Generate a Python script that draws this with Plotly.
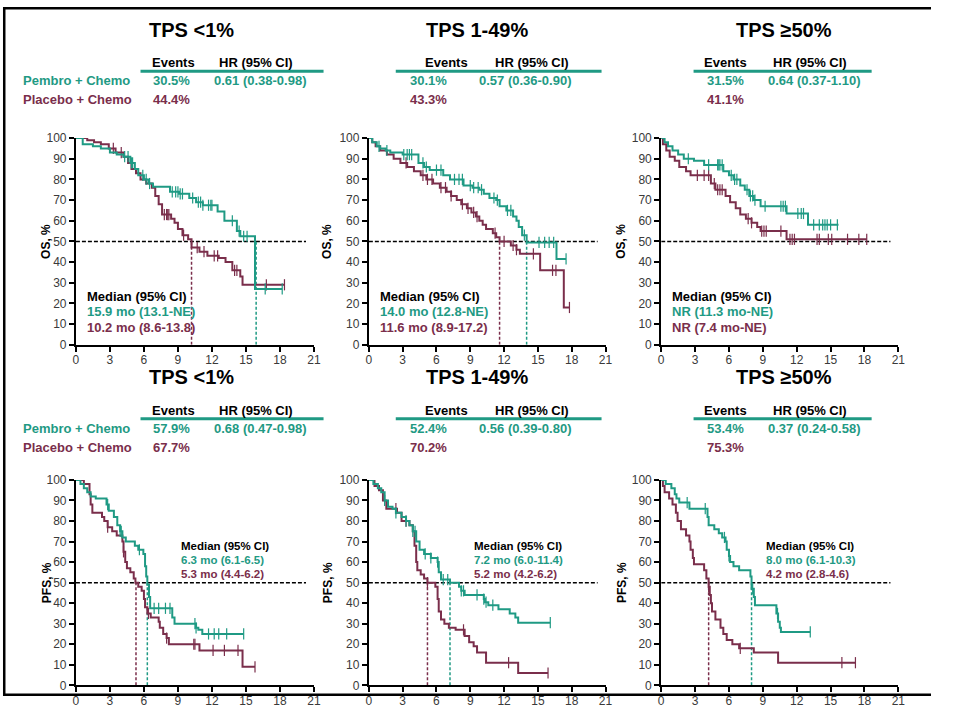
import plotly.graph_objects as go

# The page adds an 8px body margin, so the figure is sized to fill the
# rest of the 954x724 window; positions below are given in window pixels.
OFF = 8
W, H = 954 - 2 * OFF, 724 - 2 * OFF
TEAL = "#1f9a84"
MAROON = "#7a2e4b"
FONT = "Liberation Sans, Arial, sans-serif"

# ---------------- data ----------------
panel_titles = ["TPS <1%", "TPS 1-49%", "TPS \u226550%", "TPS <1%", "TPS 1-49%", "TPS \u226550%"]
events_pembro = ["30.5%", "30.1%", "31.5%", "57.9%", "52.4%", "53.4%"]
events_placebo = ["44.4%", "43.3%", "41.1%", "67.7%", "70.2%", "75.3%"]
hr_text = ["0.61 (0.38-0.98)", "0.57 (0.36-0.90)", "0.64 (0.37-1.10)",
           "0.68 (0.47-0.98)", "0.56 (0.39-0.80)", "0.37 (0.24-0.58)"]
median_pembro_text = ["15.9 mo (13.1-NE)", "14.0 mo (12.8-NE)", "NR (11.3 mo-NE)",
                      "6.3 mo (6.1-6.5)", "7.2 mo (6.0-11.4)", "8.0 mo (6.1-10.3)"]
median_placebo_text = ["10.2 mo (8.6-13.8)", "11.6 mo (8.9-17.2)", "NR (7.4 mo-NE)",
                       "5.3 mo (4.4-6.2)", "5.2 mo (4.2-6.2)", "4.2 mo (2.8-4.6)"]
median_pembro = [15.9, 14.0, None, 6.3, 7.2, 8.0]
median_placebo = [10.2, 11.6, None, 5.3, 5.2, 4.2]
y_titles = ["OS, %", "OS, %", "OS, %", "PFS, %", "PFS, %", "PFS, %"]
x_ticks = [0, 3, 6, 9, 12, 15, 18, 21]
y_ticks = [0, 10, 20, 30, 40, 50, 60, 70, 80, 90, 100]

# OS TPS <1%
os1_p_t = [0, 0.6, 1.5, 2.2, 3.0, 3.6, 4.2, 4.8, 5.2, 5.5, 6.0, 6.4, 6.8, 8.3, 9.1, 10.0, 10.6, 11.2, 12.5, 13.1, 14.2, 14.5, 15.8, 18.2]
os1_p_s = [100, 97, 96, 95, 93, 92, 91, 88, 85, 82, 80, 78, 76.5, 74, 73, 71, 69, 67.5, 64.5, 60, 55, 52.5, 27, 27]
os1_p_c = [4.3, 4.6, 4.9, 5.0, 5.9, 6.2, 6.5, 8.5, 8.8, 9.0, 9.2, 9.4, 10.3, 10.8, 11.0, 11.2, 11.7, 11.9, 12.0, 13.8, 14.4, 14.8, 15.1, 16.7, 18.2]
os1_c_t = [0, 1.0, 1.6, 2.2, 2.9, 3.5, 4.2, 4.6, 4.9, 5.3, 5.7, 6.2, 6.7, 7.0, 7.3, 7.6, 8.4, 8.7, 9.0, 9.4, 9.9, 10.2, 10.9, 11.6, 12.6, 13.2, 13.8, 14.5, 14.7, 18.4]
os1_c_s = [100, 99, 98, 97, 95, 93, 91, 88, 85, 83, 80, 78, 76, 72, 68, 63, 61, 59, 56, 53, 51, 47, 45, 43, 42, 40, 36, 33, 29, 29]
os1_c_c = [3.3, 4.0, 7.8, 8.0, 8.1, 8.2, 9.5, 10.7, 11.3, 12.2, 12.5, 14.0, 14.2, 16.8, 18.4]

# OS TPS 1-49%
os2_p_t = [0, 0.3, 0.7, 1.0, 1.5, 1.9, 3.0, 4.4, 4.9, 5.4, 6.6, 7.2, 8.4, 9.2, 9.8, 10.2, 10.7, 11.3, 11.6, 12.2, 12.8, 13.1, 13.3, 13.6, 14.0, 16.65, 17.5]
os2_p_s = [100, 98, 96, 95, 94, 93, 92, 88, 86, 84.5, 82, 80, 77, 76, 75, 73, 71, 70, 67, 65, 62, 60, 57, 53, 49.5, 41.5, 41.5]
os2_p_c = [0.9, 1.6, 3.1, 3.4, 3.6, 3.8, 4.8, 5.1, 6.0, 6.4, 7.6, 8.0, 8.3, 9.0, 9.3, 9.7, 10.0, 11.1, 11.4, 12.3, 12.6, 13.8, 15.1, 15.6, 16.0, 16.4, 17.5]
os2_c_t = [0, 0.3, 0.6, 1.0, 1.6, 2.2, 2.8, 3.4, 4.0, 4.6, 5.1, 5.7, 6.3, 6.9, 7.3, 7.8, 8.2, 8.7, 9.1, 9.5, 9.8, 10.1, 10.4, 11.0, 11.3, 11.6, 12.6, 13.1, 13.4, 15.2, 17.3, 17.8]
os2_c_s = [100, 98, 96, 94, 92, 90, 88, 86, 84, 82, 80, 78, 76, 74, 72, 70, 68, 66, 64, 62, 60, 58, 56, 54, 52, 50, 48, 46, 44, 36, 18, 18]
os2_c_c = [3.3, 4.8, 5.2, 5.6, 6.4, 6.8, 7.3, 8.3, 8.8, 9.3, 9.6, 11.2, 12.0, 12.8, 13.1, 14.6, 16.3, 16.6, 17.8]

# OS TPS >=50%
os3_p_t = [0, 0.3, 0.6, 1.0, 1.5, 2.0, 2.9, 3.8, 5.5, 6.0, 6.4, 7.0, 7.4, 7.8, 8.2, 8.8, 11.1, 13.0, 15.7]
os3_p_s = [100, 98, 96, 94, 92, 90, 89, 87, 84, 82, 80, 77, 75, 72, 70, 67, 63.5, 58, 58]
os3_p_c = [2.4, 4.2, 5.0, 5.1, 5.2, 5.4, 6.2, 6.5, 6.7, 7.6, 7.9, 8.1, 8.3, 9.2, 10.6, 10.8, 11.0, 12.1, 12.4, 12.6, 13.5, 14.0, 14.3, 14.5, 14.7, 15.0, 15.6]
os3_c_t = [0, 0.15, 0.45, 0.75, 1.2, 1.6, 2.2, 2.6, 4.4, 4.8, 5.7, 6.1, 6.6, 7.0, 7.5, 8.0, 8.5, 8.8, 11.1, 18.2]
os3_c_s = [100, 97, 94, 91, 89, 86, 84, 82, 78, 75, 72, 69, 66, 63, 61, 59, 57, 55, 51, 51]
os3_c_c = [3.2, 3.8, 4.2, 4.7, 5.0, 5.2, 5.4, 7.7, 8.0, 8.9, 9.1, 9.3, 10.6, 11.4, 11.6, 11.8, 13.8, 14.0, 14.8, 15.1, 16.5, 17.5, 18.2]

# PFS TPS <1%
pfs1_p_t = [0, 0.4, 0.7, 1.0, 1.3, 1.75, 2.7, 2.9, 3.35, 3.65, 3.9, 4.1, 4.4, 5.2, 5.5, 5.95, 6.1, 6.2, 6.3, 6.45, 6.55, 8.5, 8.7, 10.6, 10.8, 11.15, 14.8]
pfs1_p_s = [100, 98, 96, 94, 92, 91, 88, 85, 82, 78, 75, 72, 70, 68, 66, 64, 58, 53, 49, 43, 37.5, 33, 30, 28, 27, 25, 25]
pfs1_p_c = [2.8, 3.9, 4.0, 5.6, 6.9, 7.3, 7.9, 8.3, 10.5, 10.6, 11.7, 12.2, 12.6, 13.3, 14.8]
pfs1_c_t = [0, 0.7, 1.2, 1.3, 1.45, 2.3, 2.5, 2.8, 3.2, 3.6, 4.1, 4.2, 4.35, 4.5, 4.8, 5.1, 5.25, 5.5, 5.8, 6.0, 6.1, 6.3, 6.6, 7.3, 7.4, 7.7, 8.0, 8.2, 10.9, 14.7, 15.8]
pfs1_c_s = [100, 98, 93, 88, 84, 82, 80, 77, 75, 73, 70, 65, 60, 57, 55, 52, 50, 48, 46, 42, 38, 35, 33, 31, 28, 25, 23, 20, 17, 9, 9]
pfs1_c_c = [2.8, 4.2, 6.4, 8.0, 10.4, 10.5, 12.1, 13.1, 14.3, 15.8]

# PFS TPS 1-49%
pfs2_p_t = [0, 0.4, 0.8, 1.1, 1.4, 1.7, 2.1, 2.4, 2.9, 3.3, 3.6, 3.9, 4.2, 4.5, 4.9, 5.5, 6.1, 6.2, 6.4, 7.2, 8.0, 8.2, 8.5, 10.2, 10.3, 10.6, 11.5, 12.5, 13.0, 13.25, 16.1]
pfs2_p_s = [100, 98, 96, 94, 90, 87, 86, 84, 82, 80, 78, 75, 70, 66, 64, 62, 60, 55, 51.5, 50, 48, 46, 44, 42, 40.5, 39, 37, 35, 33, 30.5, 30.5]
pfs2_p_c = [1.4, 2.4, 3.3, 3.9, 4.1, 5.0, 5.5, 6.1, 6.6, 7.0, 8.2, 8.4, 9.6, 10.2, 10.4, 11.0, 16.1]
pfs2_c_t = [0, 0.5, 0.9, 1.25, 1.55, 2.5, 2.9, 3.6, 3.9, 4.05, 4.2, 4.3, 4.6, 4.9, 5.2, 5.9, 6.1, 6.2, 6.4, 6.7, 7.1, 7.7, 8.5, 8.9, 9.3, 9.6, 10.4, 13.25, 15.9]
pfs2_c_s = [100, 97, 95, 90, 86, 84, 80, 78, 75, 68, 60, 56, 54, 52, 50, 48, 42, 36, 32, 30, 28, 27, 24, 21, 19, 16, 11, 6, 6]
pfs2_c_c = [2.4, 3.3, 5.2, 8.4, 12.4, 15.9]

# PFS TPS >=50%
pfs3_p_t = [0, 0.4, 0.9, 1.2, 1.35, 1.6, 2.5, 4.1, 4.2, 4.7, 5.1, 5.4, 5.7, 5.8, 6.0, 6.1, 6.4, 6.9, 7.9, 8.0, 8.2, 8.3, 10.2, 10.35, 10.5, 10.6, 13.2]
pfs3_p_s = [100, 98, 96, 93, 91, 89, 86, 82, 78, 76, 74, 72, 70, 66, 63, 60, 58, 56, 53, 47, 43, 39, 35, 31, 28, 26, 26]
pfs3_p_c = [2.3, 3.9, 5.6, 6.0, 8.1, 10.3, 13.2]
pfs3_c_t = [0, 0.15, 0.3, 0.7, 1.0, 1.3, 1.45, 1.75, 2.2, 2.5, 2.6, 2.8, 2.9, 3.8, 4.0, 4.2, 4.3, 4.4, 4.5, 4.8, 5.25, 5.5, 5.8, 6.3, 6.9, 8.2, 10.35, 17.2]
pfs3_c_s = [100, 97, 94, 91, 88, 84, 80, 76, 73, 70, 66, 62, 59, 56, 52, 48, 44, 40, 36, 32, 28, 25, 22, 20, 18, 16, 11, 11]
pfs3_c_c = [4.2, 7.0, 16.0, 17.2]

curves = [
    (os1_p_t, os1_p_s, os1_p_c, os1_c_t, os1_c_s, os1_c_c),
    (os2_p_t, os2_p_s, os2_p_c, os2_c_t, os2_c_s, os2_c_c),
    (os3_p_t, os3_p_s, os3_p_c, os3_c_t, os3_c_s, os3_c_c),
    (pfs1_p_t, pfs1_p_s, pfs1_p_c, pfs1_c_t, pfs1_c_s, pfs1_c_c),
    (pfs2_p_t, pfs2_p_s, pfs2_p_c, pfs2_c_t, pfs2_c_s, pfs2_c_c),
    (pfs3_p_t, pfs3_p_s, pfs3_p_c, pfs3_c_t, pfs3_c_s, pfs3_c_c),
]

# ---------------- layout geometry (window pixels) ----------------
col_px = [(81.7, 322.3), (377.8, 617.0), (673.3, 913.0)]
row_px = [(142.7, 355.0), (494.0, 705.0)]


def px(x):
    return min(max((x - OFF) / W, 0), 1)


def py(y):
    return min(max(1 - (y - OFF) / H, 0), 1)


def step_at(ts, ss, t):
    v = ss[0]
    for ti, si in zip(ts, ss):
        if ti <= t:
            v = si
    return v


def note(x, y, text, size, color, xanchor="center", xref="paper"):
    return dict(x=x, y=y, xref=xref, yref="paper", text=text, showarrow=False,
                xanchor=xanchor, yanchor="middle", borderpad=0,
                font=dict(size=size, color=color, family=FONT))


fig = go.Figure()
layout = dict(width=W, height=H, margin=dict(l=0, r=0, t=0, b=0),
              paper_bgcolor="white", plot_bgcolor="white", showlegend=False,
              font=dict(family=FONT))
annotations = []
shapes = []

for i in range(6):
    r, c = divmod(i, 3)
    k = i + 1
    xa = "x" if k == 1 else f"x{k}"
    ya = "y" if k == 1 else f"y{k}"
    x0p, x1p = col_px[c]
    ytop, ybot = row_px[r]
    axis_common = dict(showline=True, linecolor="black", linewidth=2, ticks="outside",
                       ticklen=5, tickwidth=2, tickcolor="black", showgrid=False,
                       zeroline=False, tickfont=dict(size=12, color="#3a3a3a", family=FONT),
                       fixedrange=True)
    layout["xaxis" if k == 1 else f"xaxis{k}"] = dict(
        domain=[px(x0p), px(x1p)], range=[0, 21], tickvals=x_ticks,
        anchor=ya, ticklabelstandoff=-2, **axis_common)
    layout["yaxis" if k == 1 else f"yaxis{k}"] = dict(
        domain=[py(ybot), py(ytop)], range=[0, 100], tickvals=y_ticks,
        anchor=xa, **axis_common)

    pt, ps, pc, ct, cs, cc = curves[i]

    # reference line at 50%
    fig.add_trace(go.Scatter(x=[0, 20.3], y=[50, 50], mode="lines", xaxis=xa, yaxis=ya,
                             line=dict(color="black", width=1.5, dash="4px,2px"),
                             hoverinfo="skip"))
    # median drop lines
    for m, col in ((median_placebo[i], MAROON), (median_pembro[i], TEAL)):
        if m is not None:
            fig.add_trace(go.Scatter(x=[m, m], y=[0, 50], mode="lines", xaxis=xa, yaxis=ya,
                                     line=dict(color=col, width=1.5, dash="3px,2px"),
                                     hoverinfo="skip"))
    # KM curves
    for ts, ss, cens, col in ((ct, cs, cc, MAROON), (pt, ps, pc, TEAL)):
        fig.add_trace(go.Scatter(x=ts, y=ss, mode="lines", xaxis=xa, yaxis=ya,
                                 line=dict(color=col, width=2, shape="hv"),
                                 cliponaxis=False, hoverinfo="skip"))
        fig.add_trace(go.Scatter(x=cens, y=[step_at(ts, ss, t) for t in cens],
                                 mode="markers", xaxis=xa, yaxis=ya, cliponaxis=False,
                                 marker=dict(symbol="line-ns", size=8,
                                             line=dict(color=col, width=1.2)),
                                 hoverinfo="skip"))

    # y-axis title
    yt = note(px([52, 336, 633][c]), py((ytop + ybot) / 2), "<b>" + y_titles[i] + "</b>", 12, "black")
    yt["textangle"] = -90
    annotations.append(yt)

    # header block
    dy = 0 if r == 0 else 357
    title_cx = [199, 487, 797][c]
    ev_cx = [180, 456, 738][c]
    hr_cx = [264, 543, 824][c]
    val_cx = [178, 438, 738][c]
    hrv_cx = [268, 536, 828][c]
    line_x = [(147, 332), (405, 613), (706, 886)][c]
    annotations.append(note(px(title_cx), py(31.5 + dy), "<b>" + panel_titles[i] + "</b>", 20, "black"))
    annotations.append(note(px(ev_cx), py(65.5 + dy), "<b>Events</b>", 13, "black"))
    annotations.append(note(px(hr_cx), py(65.5 + dy), "<b>HR (95% CI)</b>", 13, "black"))
    annotations.append(note(px(val_cx), py(84 + dy), "<b>" + events_pembro[i] + "</b>", 13, TEAL))
    annotations.append(note(px(hrv_cx), py(84 + dy), "<b>" + hr_text[i] + "</b>", 13, TEAL))
    annotations.append(note(px(val_cx), py(103.5 + dy), "<b>" + events_placebo[i] + "</b>", 13, MAROON))
    shapes.append(dict(type="line", xref="paper", yref="paper",
                       x0=px(line_x[0]), x1=px(line_x[1]), y0=py(74 + dy), y1=py(74 + dy),
                       line=dict(color=TEAL, width=3)))
    if c == 0:
        annotations.append(note(px(27), py(84 + dy), "<b>Pembro + Chemo</b>", 13, TEAL, "left"))
        annotations.append(note(px(27), py(103.5 + dy), "<b>Placebo + Chemo</b>", 13, MAROON, "left"))

    # median block
    if r == 0:
        mx, my, fs = 0.9, [305, 321, 337], 13
    else:
        mx, my, fs = 9.2, [561.5, 576, 590.5], 11.5
    for txt, col, yy in (("Median (95% CI)", "black", my[0]),
                         (median_pembro_text[i], TEAL, my[1]),
                         (median_placebo_text[i], MAROON, my[2])):
        annotations.append(note(mx, py(yy), "<b>" + txt + "</b>", fs, col, "left", xref=xa))

# frame (top, left and bottom rules)
lw = 2.5
shapes.append(dict(type="line", xref="paper", yref="paper", x0=0, x1=1,
                   y0=1 - (lw / 2) / H, y1=1 - (lw / 2) / H,
                   line=dict(color="black", width=lw), layer="above"))
shapes.append(dict(type="line", xref="paper", yref="paper", x0=(lw / 2) / W, x1=(lw / 2) / W,
                   y0=0, y1=1, line=dict(color="black", width=lw), layer="above"))
shapes.append(dict(type="line", xref="paper", yref="paper", x0=0, x1=1,
                   y0=(lw / 2) / H, y1=(lw / 2) / H,
                   line=dict(color="black", width=lw), layer="above"))

layout["annotations"] = annotations
layout["shapes"] = shapes
fig.update_layout(**layout)
fig.write_html("out.html")
